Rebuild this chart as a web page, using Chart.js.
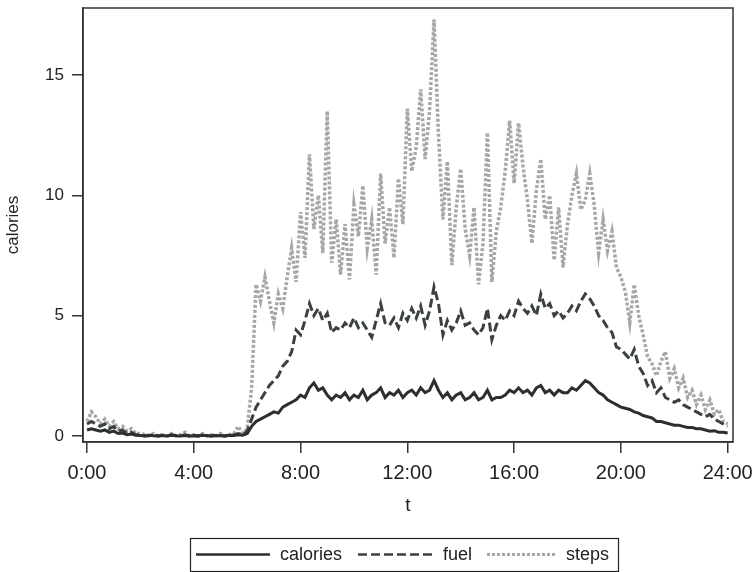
<!DOCTYPE html>
<html lang="en">
<head>
  <meta charset="UTF-8">
  <title>Calories, fuel and steps over the day</title>
  <script src="https://cdn.jsdelivr.net/npm/chart.js@4.4.0/dist/chart.umd.min.js"></script>
  <style>
    html, body { margin: 0; padding: 0; background: #fff; }
    #wrap { width: 756px; height: 572px; position: relative; }
  </style>
</head>
<body>
  <div id="wrap"><canvas id="myChart" width="756" height="572"></canvas></div>
  <script>
    // readings every 10 minutes, 0:00 .. 24:00
    const calories = [
      0.25, 0.3, 0.25, 0.2, 0.25, 0.15, 0.2, 0.1, 0.12, 0.05, 0.08, 0.03,
      0.02, 0.0, 0.03, 0.01, 0.0, 0.02, 0.0, 0.03, 0.01, 0.0, 0.02, 0.0,
      0.01, 0.0, 0.03, 0.01, 0.0, 0.02, 0.01, 0.0, 0.03, 0.02, 0.05, 0.03,
      0.1, 0.4, 0.6, 0.7, 0.8, 0.9, 1.0, 0.95, 1.2, 1.3, 1.4, 1.5,
      1.7, 1.6, 2.0, 2.2, 1.9, 2.0, 1.7, 1.5, 1.7, 1.6, 1.8, 1.5,
      1.7, 1.6, 1.9, 1.5, 1.7, 1.8, 2.0, 1.6, 1.8, 1.7, 1.9, 1.6,
      1.8, 1.9, 1.7, 2.0, 1.8, 1.9, 2.3, 1.9, 1.6, 1.8, 1.5, 1.7,
      1.8, 1.5, 1.6, 1.8, 1.5, 1.6, 1.9, 1.5, 1.6, 1.6, 1.7, 1.9,
      1.8, 2.0, 1.8, 1.9, 1.7, 2.0, 2.1, 1.8, 1.9, 1.7, 1.9, 1.8,
      1.8, 2.0, 1.9, 2.1, 2.3, 2.2, 2.0, 1.8, 1.7, 1.5, 1.4, 1.3,
      1.2, 1.15, 1.1, 1.0, 0.95, 0.85, 0.8, 0.75, 0.6, 0.6, 0.55, 0.5,
      0.45, 0.45, 0.4, 0.35, 0.35, 0.3, 0.3, 0.25, 0.2, 0.22, 0.15, 0.15,
      0.12
    ];
    const fuel = [
      0.5, 0.6, 0.5, 0.4, 0.5, 0.3, 0.4, 0.2, 0.25, 0.1, 0.15, 0.05,
      0.05, 0.0, 0.02, 0.05, 0.0, 0.03, 0.0, 0.05, 0.02, 0.0, 0.05, 0.0,
      0.03, 0.0, 0.05, 0.02, 0.0, 0.04, 0.02, 0.0, 0.05, 0.03, 0.1, 0.05,
      0.2, 0.7, 1.2, 1.5, 1.8, 2.1, 2.3, 2.5, 2.9, 3.1, 3.5, 4.4,
      4.2, 4.8, 5.5, 5.0, 5.3, 4.8, 5.1, 4.3, 4.5, 4.4, 4.7, 4.5,
      4.9, 4.5, 4.7, 4.4, 4.1, 4.8, 5.5, 4.7, 4.6, 4.9, 4.5, 5.1,
      4.8, 5.3, 4.9, 5.4, 4.6, 5.2, 6.2, 5.5, 4.2, 4.8, 4.4, 4.7,
      5.2, 4.6, 4.7, 4.4, 4.2, 4.5, 5.3, 4.0, 4.6, 5.0, 4.8, 5.2,
      5.0, 5.6, 5.3, 5.1, 5.4, 5.0, 5.9, 5.3, 5.5, 5.0, 5.2, 4.9,
      5.1, 5.4, 5.2, 5.6, 5.9, 5.7, 5.4, 5.0, 4.8, 4.5, 4.3, 3.7,
      3.6, 3.4, 3.2, 3.6, 2.9, 2.6, 2.1, 2.3, 1.8, 2.0, 1.6, 1.5,
      1.4, 1.5, 1.3, 1.2, 1.1, 1.0, 0.9, 0.8, 0.9, 0.7, 0.6, 0.5,
      0.4
    ];
    const steps = [
      0.6, 1.0, 0.8, 0.5, 0.7, 0.4, 0.6, 0.3, 0.4, 0.2, 0.3, 0.1,
      0.1, 0.05, 0.0, 0.1, 0.0, 0.05, 0.0, 0.1, 0.0, 0.05, 0.15, 0.0,
      0.05, 0.0, 0.1, 0.0, 0.05, 0.0, 0.1, 0.0, 0.05, 0.1, 0.4, 0.1,
      0.3, 2.0, 6.3, 5.6, 6.6, 5.6, 4.7, 5.9, 5.3, 6.6, 7.8, 6.4,
      9.3, 7.4, 11.7, 8.6, 10.0, 7.6, 13.5, 7.2, 9.0, 6.7, 8.8, 6.5,
      9.6, 8.3, 10.4, 7.8, 9.0, 6.7, 10.9, 8.0, 9.5, 7.4, 10.7, 8.8,
      13.6, 11.0, 12.0, 14.4, 11.5, 13.5, 17.3, 12.5, 9.0, 11.4, 7.1, 9.5,
      11.1, 8.6, 7.5, 9.5, 6.3, 8.0, 12.6, 6.4, 8.5, 9.5, 11.0, 13.1,
      10.5, 13.0, 11.2, 9.8, 8.0, 10.2, 11.5, 9.0, 10.0, 7.3, 9.5, 7.0,
      8.8, 10.0, 10.9, 9.4, 9.8, 10.9, 9.6, 7.6, 9.0, 7.7, 8.5, 7.0,
      6.6, 6.0, 4.7, 6.3, 5.0, 4.2, 3.3, 3.0, 2.5, 3.1, 3.5, 2.4,
      2.8, 2.0, 2.4, 1.6, 1.9, 1.3, 1.7, 1.1, 1.5, 0.9, 1.1, 0.6,
      0.5
    ];
    const xTicks = [0, 4, 8, 12, 16, 20, 24];
    const xTickLabels = ['0:00', '4:00', '8:00', '12:00', '16:00', '20:00', '24:00'];
    const yTicks = [0, 5, 10, 15];
    const seriesNames = ['calories', 'fuel', 'steps'];

    // hours for each 10-minute slot
    const hours = steps.map((_, i) => i / 6);
    const pts = arr => arr.map((v, i) => ({ x: hours[i], y: v }));

    const FONT = '"Liberation Sans", Arial, sans-serif';
    const styles = [
      { color: '#2b302d', width: 3, dash: [] },
      { color: '#3b423e', width: 3, dash: [9, 4] },
      { color: '#a9a6a3', width: 3.5, dash: [3, 2] }
    ];

    // frame round the plot + legend box at the bottom
    const frameAndLegend = {
      id: 'frameAndLegend',
      afterDraw(chart) {
        const ctx = chart.ctx;
        const a = chart.chartArea;
        ctx.save();
        ctx.strokeStyle = '#333';
        ctx.lineWidth = 1.5;
        ctx.strokeRect(a.left, a.top, a.right - a.left, a.bottom - a.top);

        // legend
        const bx = 190, by = 538, bw = 428, bh = 33;
        ctx.lineWidth = 1.2;
        ctx.strokeStyle = '#222';
        ctx.strokeRect(bx + 0.5, by + 0.5, bw, bh);
        const ly = by + bh / 2;
        const items = [
          { x0: 196, x1: 270, tx: 280 },
          { x0: 358, x1: 433, tx: 443 },
          { x0: 487, x1: 557, tx: 566 }
        ];
        ctx.font = '18px ' + FONT;
        ctx.textBaseline = 'middle';
        ctx.fillStyle = '#222';
        items.forEach((it, i) => {
          ctx.beginPath();
          ctx.strokeStyle = styles[i].color;
          ctx.lineWidth = styles[i].width - 0.5;
          ctx.setLineDash(styles[i].dash);
          ctx.moveTo(it.x0, ly);
          ctx.lineTo(it.x1, ly);
          ctx.stroke();
          ctx.setLineDash([]);
          ctx.fillText(seriesNames[i], it.tx, ly + 1);
        });
        ctx.restore();
      }
    };

    const ctx = document.getElementById('myChart').getContext('2d');
    const myChart = new Chart(ctx, {
      type: 'line',
      data: {
        datasets: [calories, fuel, steps].map((d, i) => ({
          label: seriesNames[i],
          data: pts(d),
          borderColor: styles[i].color,
          borderWidth: styles[i].width,
          borderDash: styles[i].dash,
          pointRadius: 0,
          tension: 0,
          fill: false
        }))
      },
      options: {
        responsive: false,
        animation: false,
        layout: { padding: { left: 0, right: 23, top: 0, bottom: 55 } },
        plugins: {
          legend: { display: false },
          tooltip: { enabled: false }
        },
        scales: {
          x: {
            type: 'linear',
            min: -0.15,
            max: 24.2,
            afterBuildTicks: axis => { axis.ticks = xTicks.map(v => ({ value: v })); },
            afterFit: s => { s.height = 75; s.paddingLeft = 0; s.paddingRight = 0; },
            grid: { display: true, drawOnChartArea: false, drawTicks: true, tickLength: 11, color: '#333', lineWidth: 1.5 },
            border: { display: true, color: '#333', width: 1.5 },
            ticks: {
              padding: 8,
              color: '#222',
              font: { family: FONT, size: 20 },
              maxRotation: 0,
              callback: (v, i) => xTickLabels[i]
            },
            title: {
              display: true,
              text: 't',
              color: '#222',
              padding: { top: 4, bottom: 0 },
              font: { family: FONT, size: 19 }
            }
          },
          y: {
            min: -0.25,
            max: 17.78,
            afterBuildTicks: axis => { axis.ticks = yTicks.map(v => ({ value: v })); },
            afterFit: s => { s.width = 83; s.paddingTop = 8; s.paddingBottom = 0; },
            grid: { display: true, drawOnChartArea: false, drawTicks: true, tickLength: 11, color: '#333', lineWidth: 1.5 },
            border: { display: true, color: '#333', width: 1.5 },
            ticks: {
              padding: 8,
              color: '#222',
              font: { family: FONT, size: 17 }
            },
            title: {
              display: true,
              text: 'calories',
              color: '#222',
              padding: { top: 3, bottom: 4 },
              font: { family: FONT, size: 17 }
            }
          }
        }
      },
      plugins: [frameAndLegend]
    });
  </script>
</body>
</html>
